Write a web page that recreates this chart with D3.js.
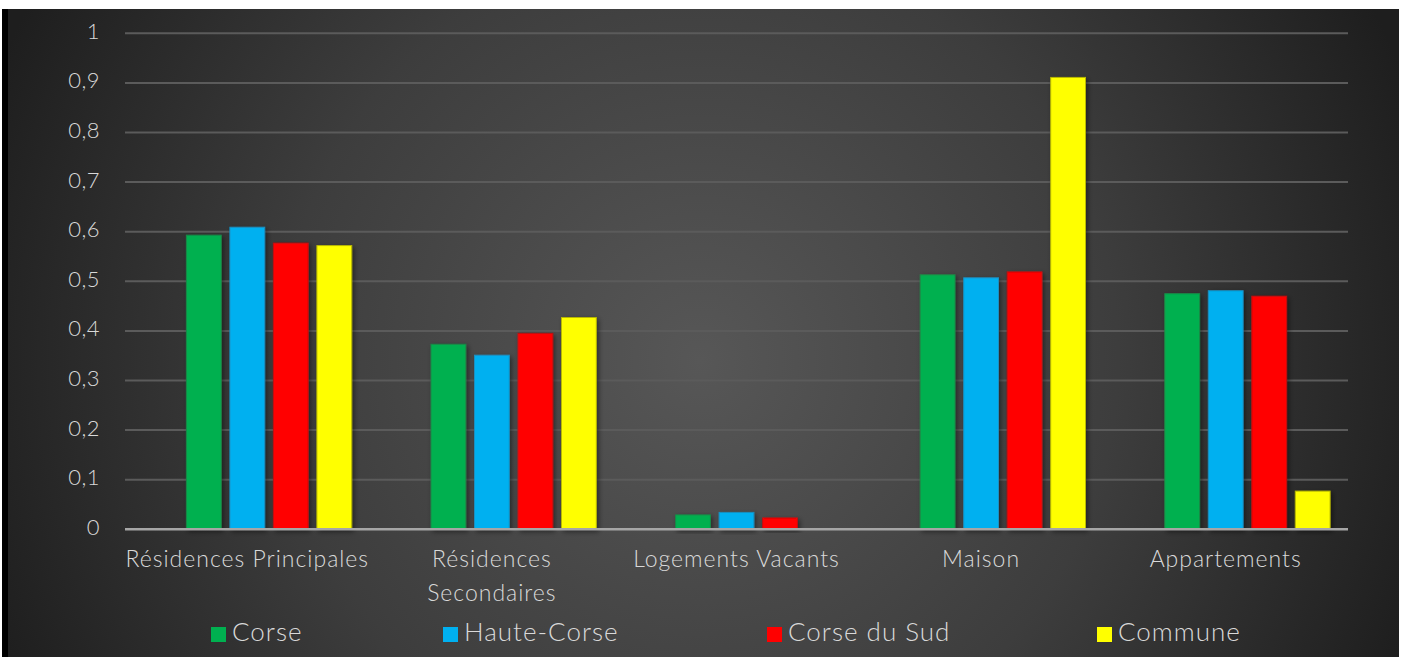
<html>
  <head>
    <style>
      body { margin:0; background:#fff; }
      text {
        font-family: Lato, "Open Sans", sans-serif;
        font-weight: 300;
        fill: #d9d9d9;
      }
      .grid line { stroke:#5b5b5b; stroke-width:2px; }
      .axis line { stroke:#a6a6a6; stroke-width:2.5px; }
      .bars rect { filter:url(#shadow); }
    </style>
    <script src="https://d3js.org/d3.v7.min.js" charset="utf-8"></script>
  </head>
  <body>
    <script>
      const categories = ['Résidences Principales', 'Résidences Secondaires', 'Logements Vacants', 'Maison', 'Appartements']
      const series = ['Corse', 'Haute-Corse', 'Corse du Sud', 'Commune']
      const colors = ['#00b050', '#00b0f0', '#ff0000', '#ffff00']
      const borders = ['#1a8a47', '#1a8fc0', '#c01010', '#b8b800']
      const corse = [0.593, 0.373, 0.029, 0.513, 0.475]
      const hauteCorse = [0.609, 0.351, 0.034, 0.507, 0.481]
      const corseDuSud = [0.577, 0.395, 0.023, 0.519, 0.470]
      const commune = [0.572, 0.427, 0, 0.911, 0.077]
      const yTicks = [0, 0.1, 0.2, 0.3, 0.4, 0.5, 0.6, 0.7, 0.8, 0.9, 1]
      const values = [corse, hauteCorse, corseDuSud, commune]

      const W = 1401, H = 657
      const plot = {left:125, right:1348, top:33.3, bottom:529.3}

      const svg = d3.select('body').append('svg').attr('width',W).attr('height',H)
      const defs = svg.append('defs')

      const grad = defs.append('radialGradient').attr('id','bg')
        .attr('gradientUnits','userSpaceOnUse')
        .attr('cx',700).attr('cy',360).attr('r',760)
      grad.append('stop').attr('offset','0%').attr('stop-color','#575757')
      grad.append('stop').attr('offset','55%').attr('stop-color','#3d3d3d')
      grad.append('stop').attr('offset','100%').attr('stop-color','#1e1e1e')

      defs.append('filter').attr('id','shadow')
        .attr('x','-20%').attr('y','-20%').attr('width','150%').attr('height','150%')
        .append('feDropShadow')
        .attr('dx',2).attr('dy',2).attr('stdDeviation',2.5)
        .attr('flood-color','#000').attr('flood-opacity',0.45)

      // frame
      svg.append('rect').attr('x',2).attr('y',9).attr('width',6).attr('height',H-9).attr('fill','#000')
      svg.append('rect').attr('x',8).attr('y',9).attr('width',1391).attr('height',H-9).attr('fill','url(#bg)')

      const y = d3.scaleLinear().domain([0,1]).range([plot.bottom, plot.top])
      const x0 = d3.scaleBand().domain(categories).range([plot.left, plot.right])
      // 5 slots per group, the first one is an empty series in the source chart
      const gap = (x0.bandwidth() - 208.8) / 2
      const x1 = d3.scaleBand().domain(d3.range(5))
        .range([gap, x0.bandwidth()-gap]).paddingInner(0.2)

      // gridlines
      svg.append('g').classed('grid',true).selectAll('line')
        .data(yTicks.filter(t => t > 0))
        .join('line')
        .attr('x1',plot.left).attr('x2',plot.right)
        .attr('y1',d => y(d)).attr('y2',d => y(d))

      // y tick labels
      svg.append('g').selectAll('text')
        .data(yTicks)
        .join('text')
        .attr('x',100).attr('y',d => y(d))
        .attr('text-anchor','end').attr('dominant-baseline','middle')
        .style('font-size','22px').style('letter-spacing','0.5px')
        .text(d => d3.format('.1~f')(d).replace('.',','))

      // bars
      const bars = svg.append('g').classed('bars',true)
      values.forEach((vals,si) => {
        bars.selectAll('rect.s'+si)
          .data(vals.map((v,i) => ({c:categories[i], v})).filter(d => d.v > 0))
          .join('rect')
          .attr('class','s'+si)
          .attr('x',d => x0(d.c) + x1(si+1))
          .attr('width',x1.bandwidth())
          .attr('y',d => y(d.v))
          .attr('height',d => y(0)-y(d.v))
          .attr('fill',colors[si])
          .attr('stroke',borders[si]).attr('stroke-width',1)
      })

      // x axis line
      svg.append('g').classed('axis',true).append('line')
        .attr('x1',plot.left).attr('x2',plot.right)
        .attr('y1',y(0)).attr('y2',y(0))

      // category labels (wrapped like the source)
      const labelLines = {'Résidences Secondaires':['Résidences','Secondaires']}
      const xl = svg.append('g')
      categories.forEach(c => {
        const lines = labelLines[c] || [c]
        xl.append('text')
          .attr('x',x0(c)+x0.bandwidth()/2).attr('y',561)
          .attr('text-anchor','middle').attr('dominant-baseline','middle')
          .style('font-size','23px').style('letter-spacing','1px')
          .selectAll('tspan').data(lines).join('tspan')
          .attr('x',x0(c)+x0.bandwidth()/2)
          .attr('dy',(d,i) => i ? 34 : 0)
          .text(d => d)
      })

      // legend
      const legendX = [211, 443, 767, 1097]
      const lg = svg.append('g').selectAll('g').data(series).join('g')
        .attr('transform',(d,i) => `translate(${legendX[i]},635)`)
      lg.append('rect').attr('x',0).attr('y',-8).attr('width',15).attr('height',15)
        .attr('fill',(d,i) => colors[i])
      lg.append('text').attr('x',21).attr('y',0)
        .attr('dominant-baseline','middle')
        .style('font-size','26px').style('letter-spacing','1px')
        .text(d => d)
    </script>
  </body>
</html>
